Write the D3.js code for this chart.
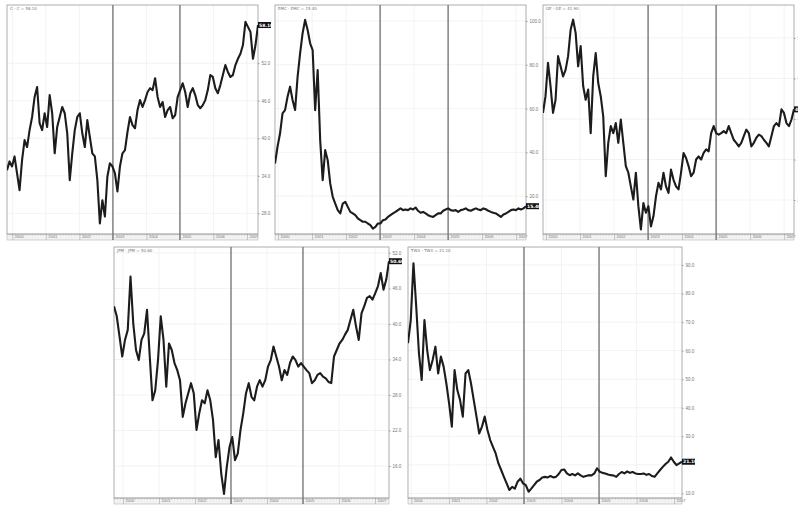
<!DOCTYPE html>
<html>
<head>
<meta charset="utf-8">
<script src="https://cdn.jsdelivr.net/npm/d3@7"></script>
<style>
body { margin: 0; background: #fff; }
svg { display: block; font-family: "DejaVu Sans", sans-serif; }
</style>
</head>
<body>
<svg id="chart" width="798" height="506"></svg>
<script>
// year ticks and the two marked dates
const years = [2000, 2001, 2002, 2003, 2004, 2005, 2006, 2007];
const eventYears = [2003, 2005];

// prices, evenly spaced from the left to the right edge of each panel
const cValues = [
  34.9, 36.3, 35.5, 37.1, 34.4, 31.7, 36.5, 39.7, 38.6, 41.3,
  43.4, 46.6, 48.2, 42.4, 41.3, 44.0, 41.8, 46.9, 44.0, 37.6,
  41.8, 43.4, 45.0, 44.0, 40.8, 33.3, 37.6, 41.3, 43.4, 44.0,
  40.8, 38.6, 42.9, 40.2, 37.6, 37.1, 33.3, 26.4, 30.1, 27.5,
  33.9, 36.0, 35.5, 34.4, 31.5, 35.5, 37.6, 38.1, 41.0, 43.4,
  42.1, 41.6, 44.5, 46.1, 45.0, 46.1, 47.4, 48.0, 47.7, 49.6,
  46.6, 45.0, 45.8, 43.4, 44.5, 45.0, 43.2, 43.7, 46.6, 47.7,
  48.8, 47.4, 45.0, 47.2, 48.0, 46.9, 45.3, 44.8, 45.3, 46.1,
  47.7, 50.1, 49.8, 48.0, 47.2, 48.5, 50.1, 51.7, 50.6, 49.8,
  50.1, 51.7, 52.7, 53.5, 54.9, 58.6, 57.8, 57.0, 52.7, 54.9, 58.1
];
const emcValues = [
  34.9, 42.5, 48.6, 57.8, 59.3, 65.4, 70.0, 63.9, 59.3, 74.5,
  85.2, 94.4, 100.5, 95.9, 89.8, 86.7, 59.3, 77.6, 45.6, 27.3,
  41.0, 36.4, 25.8, 19.7, 16.6, 13.6, 12.1, 16.6, 17.4, 15.1,
  12.8, 12.1, 11.3, 9.8, 9.0, 8.3, 8.3, 7.5, 6.8, 5.2,
  6.0, 7.5, 7.5, 9.0, 9.3, 10.5, 11.3, 12.1, 12.8, 13.6,
  14.4, 13.6, 13.9, 13.6, 14.4, 13.9, 14.8, 13.3, 12.4, 12.8,
  12.1, 11.3, 10.8, 10.5, 11.3, 12.1, 12.1, 13.3, 13.9, 14.4,
  13.6, 13.3, 13.6, 12.8, 13.6, 13.9, 14.4, 13.6, 13.3, 13.9,
  14.4, 13.9, 13.6, 14.4, 14.0, 13.3, 12.8, 12.4, 12.1, 11.3,
  10.5, 11.6, 12.1, 12.8, 13.6, 13.9, 13.6, 14.4, 13.9, 14.4, 15.4
];
const geValues = [
  41.2, 44.5, 51.1, 46.5, 41.2, 43.8, 52.4, 50.4, 48.4, 49.7,
  52.4, 57.6, 59.6, 57.0, 50.4, 54.4, 46.5, 43.8, 45.8, 37.2,
  48.4, 53.0, 47.1, 44.5, 40.5, 28.7, 35.3, 38.6, 37.2, 39.2,
  35.3, 39.9, 35.3, 30.7, 29.4, 26.7, 24.1, 29.4, 22.8, 18.2,
  23.4, 21.5, 22.8, 18.8, 20.8, 24.7, 27.4, 26.1, 29.4, 26.7,
  25.4, 30.0, 28.0, 26.7, 26.1, 29.4, 33.3, 32.3, 30.7, 28.7,
  29.4, 32.0, 32.6, 32.0, 33.3, 34.0, 33.6, 37.2, 38.6, 37.2,
  36.9, 37.2, 37.6, 37.2, 38.6, 37.2, 35.9, 35.3, 34.6, 35.3,
  36.6, 37.9, 37.2, 34.6, 35.3, 36.3, 36.9, 36.6, 35.9, 35.3,
  34.6, 36.6, 38.6, 39.2, 38.6, 41.9, 41.2, 39.2, 38.6, 39.9, 41.9
];
const jpmValues = [
  43.0, 41.3, 37.9, 34.5, 37.3, 39.0, 48.0, 40.1, 35.6, 33.9,
  37.3, 38.4, 42.4, 34.5, 27.1, 28.8, 33.9, 41.3, 37.3, 29.4,
  36.7, 35.6, 33.4, 32.2, 30.5, 24.3, 26.6, 28.3, 30.0, 28.3,
  22.1, 24.9, 27.1, 26.6, 28.8, 27.1, 23.8, 17.5, 20.4, 14.7,
  11.3, 15.8, 19.2, 20.9, 17.0, 18.1, 22.1, 24.9, 28.3, 30.0,
  27.7, 27.1, 29.4, 30.5, 29.4, 30.5, 32.8, 33.9, 36.2, 34.5,
  32.8, 30.5, 32.2, 31.4, 33.4, 34.5, 33.9, 32.8, 33.4, 32.8,
  32.2, 31.7, 30.0, 30.5, 31.4, 31.7, 31.1, 30.8, 30.2, 30.0,
  34.5, 35.6, 36.7, 37.3, 38.2, 39.0, 40.7, 42.4, 39.6, 37.3,
  41.8, 43.0, 44.4, 44.7, 44.1, 45.2, 46.4, 48.6, 45.8, 47.5, 50.6
];
const twxValues = [
  62.6, 70.7, 90.6, 75.4, 59.0, 49.7, 70.7, 60.2, 53.2, 56.7,
  61.4, 52.0, 57.9, 54.4, 48.5, 41.5, 33.4, 53.2, 46.2, 42.7,
  36.9, 52.0, 53.2, 48.5, 42.7, 36.9, 31.0, 33.4, 36.9, 32.2,
  28.7, 26.3, 24.0, 20.5, 18.2, 15.8, 13.5, 11.2, 12.3, 11.7,
  14.1, 15.2, 13.5, 12.9, 10.6, 11.7, 12.9, 14.1, 14.7, 15.6,
  15.8, 15.6, 16.1, 15.6, 15.8, 16.8, 18.2, 18.4, 17.0, 16.4,
  16.8, 16.3, 17.0, 16.3, 15.8, 16.1, 16.4, 16.3, 17.0, 18.8,
  17.6, 17.2, 17.0, 16.6, 16.4, 16.3, 15.8, 16.8, 17.5, 17.0,
  17.7, 17.2, 17.5, 17.0, 16.8, 16.8, 17.0, 16.5, 16.8, 16.1,
  15.8, 17.0, 18.2, 19.3, 20.3, 21.1, 22.6, 21.1, 19.9, 20.5, 21.1
];

// right axis tick labels
const cTicks = [28, 34, 40, 46, 52];
const emcTicks = [20, 40, 60, 80, 100];
const geTicks = [24, 32, 40, 48, 56];
const jpmTicks = [16, 22, 28, 34, 40, 46, 52];
const twxTicks = [10, 20, 30, 40, 50, 60, 70, 80, 90];

const panels = [
  { name: "C", values: cValues, ticks: cTicks, t0: 1999.84, t1: 2007.33, y0: 24.7, y1: 61.3,
    left: 7, right: 258, top: 5, bottom: 234 },
  { name: "EMC", values: emcValues, ticks: emcTicks, t0: 1999.91, t1: 2007.29, y0: 2.7, y1: 107.3,
    left: 275, right: 526, top: 5, bottom: 234 },
  { name: "GE", values: geValues, ticks: geTicks, t0: 1999.91, t1: 2007.29, y0: 17.3, y1: 62.5,
    left: 543, right: 794, top: 5, bottom: 234 },
  { name: "JPM", values: jpmValues, ticks: jpmTicks, t0: 1999.75, t1: 2007.39, y0: 10.6, y1: 53.0,
    left: 114, right: 389, top: 247, bottom: 498 },
  { name: "TWX", values: twxValues, ticks: twxTicks, t0: 1999.91, t1: 2007.21, y0: 8.4, y1: 96.3,
    left: 408, right: 682, top: 247, bottom: 498 }
];

const svg = d3.select("#chart");
svg.append("rect").attr("width", 798).attr("height", 506).attr("fill", "#fff");

const stripH = 6;
const fmt1 = d3.format(".1f");
const fmt2 = d3.format(".2f");

panels.forEach(function (p, k) {
  const g = svg.append("g");
  const x = d3.scaleLinear().domain([p.t0, p.t1]).range([p.left, p.right]);
  const y = d3.scaleLinear().domain([p.y0, p.y1]).range([p.bottom, p.top]);
  const n = p.values.length - 1;
  const last = p.values[n];
  const pts = p.values.map(function (v, i) { return [p.t0 + i * (p.t1 - p.t0) / n, v]; });

  // faint grid
  g.selectAll(".hg").data(p.ticks).join("line")
    .attr("x1", p.left).attr("x2", p.right)
    .attr("y1", d => y(d)).attr("y2", d => y(d))
    .attr("stroke", "#ebebeb").attr("stroke-width", 0.6);
  g.selectAll(".vg").data(years).join("line")
    .attr("x1", d => x(d)).attr("x2", d => x(d))
    .attr("y1", p.top).attr("y2", p.bottom)
    .attr("stroke", "#ebebeb").attr("stroke-width", 0.6);

  // bottom date strip
  g.append("rect").attr("x", p.left).attr("y", p.bottom)
    .attr("width", p.right - p.left).attr("height", stripH)
    .attr("fill", "#f2f2f2").attr("stroke", "#aaa").attr("stroke-width", 0.5);

  const months = d3.range(Math.ceil(p.t0 * 12), Math.floor(p.t1 * 12) + 1).map(m => m / 12);
  g.append("g").attr("transform", "translate(0," + p.bottom + ")")
    .call(d3.axisBottom(x).tickValues(months).tickSize(1.5).tickFormat(""))
    .call(a => a.select(".domain").remove())
    .call(a => a.selectAll("line").attr("stroke", "#999").attr("stroke-width", 0.4));

  g.append("g").attr("transform", "translate(0," + p.bottom + ")")
    .call(d3.axisBottom(x).tickValues(years).tickSize(stripH).tickFormat(d3.format("d")))
    .call(a => a.select(".domain").remove())
    .call(a => a.selectAll("line").attr("stroke", "#999").attr("stroke-width", 0.5))
    .call(a => a.selectAll("text")
      .attr("x", 2).attr("y", 1.4).attr("dy", "0.71em")
      .attr("text-anchor", "start")
      .attr("fill", "#777").style("font-size", "4px"));

  // frame
  g.append("rect").attr("x", p.left).attr("y", p.top)
    .attr("width", p.right - p.left).attr("height", p.bottom - p.top)
    .attr("fill", "none").attr("stroke", "#999").attr("stroke-width", 0.8);

  // marked dates
  g.selectAll(".ev").data(eventYears).join("line")
    .attr("x1", d => x(d)).attr("x2", d => x(d))
    .attr("y1", p.top).attr("y2", p.bottom + stripH)
    .attr("stroke", "#7a7a7a").attr("stroke-width", 1.4);

  // right price axis; the label under the last price tag is hidden by it
  const shown = p.ticks.filter(t => Math.abs(y(t) - y(last)) > 5);
  g.append("g").attr("transform", "translate(" + p.right + ",0)")
    .call(d3.axisRight(y).tickValues(shown).tickSize(1.5).tickPadding(2).tickFormat(fmt1))
    .call(a => a.select(".domain").remove())
    .call(a => a.selectAll("line").attr("stroke", "#999"))
    .call(a => a.selectAll("text").attr("fill", "#777").style("font-size", "4.5px"));

  // price line
  const clipId = "clip" + k;
  g.append("clipPath").attr("id", clipId).append("rect")
    .attr("x", p.left).attr("y", p.top)
    .attr("width", p.right - p.left).attr("height", p.bottom - p.top);
  g.append("path").datum(pts)
    .attr("clip-path", "url(#" + clipId + ")")
    .attr("fill", "none").attr("stroke", "#1c1c1c")
    .attr("stroke-width", 2.1).attr("stroke-linejoin", "round")
    .attr("d", d3.line().x(d => x(d[0])).y(d => y(d[1])));

  // title
  g.append("text").attr("x", p.left + 3).attr("y", p.top + 4.5)
    .attr("fill", "#777").style("font-size", "4px")
    .text(p.name + " - " + p.name + " = " + fmt2(last));

  // last price tag
  g.append("rect").attr("x", p.right).attr("y", y(last) - 3)
    .attr("width", 13).attr("height", 6).attr("fill", "#111");
  g.append("text").attr("x", p.right + 1).attr("y", y(last) + 1.7)
    .attr("fill", "#fff").style("font-size", "4.5px").style("font-weight", "bold")
    .text(fmt2(last));
});
</script>
</body>
</html>
